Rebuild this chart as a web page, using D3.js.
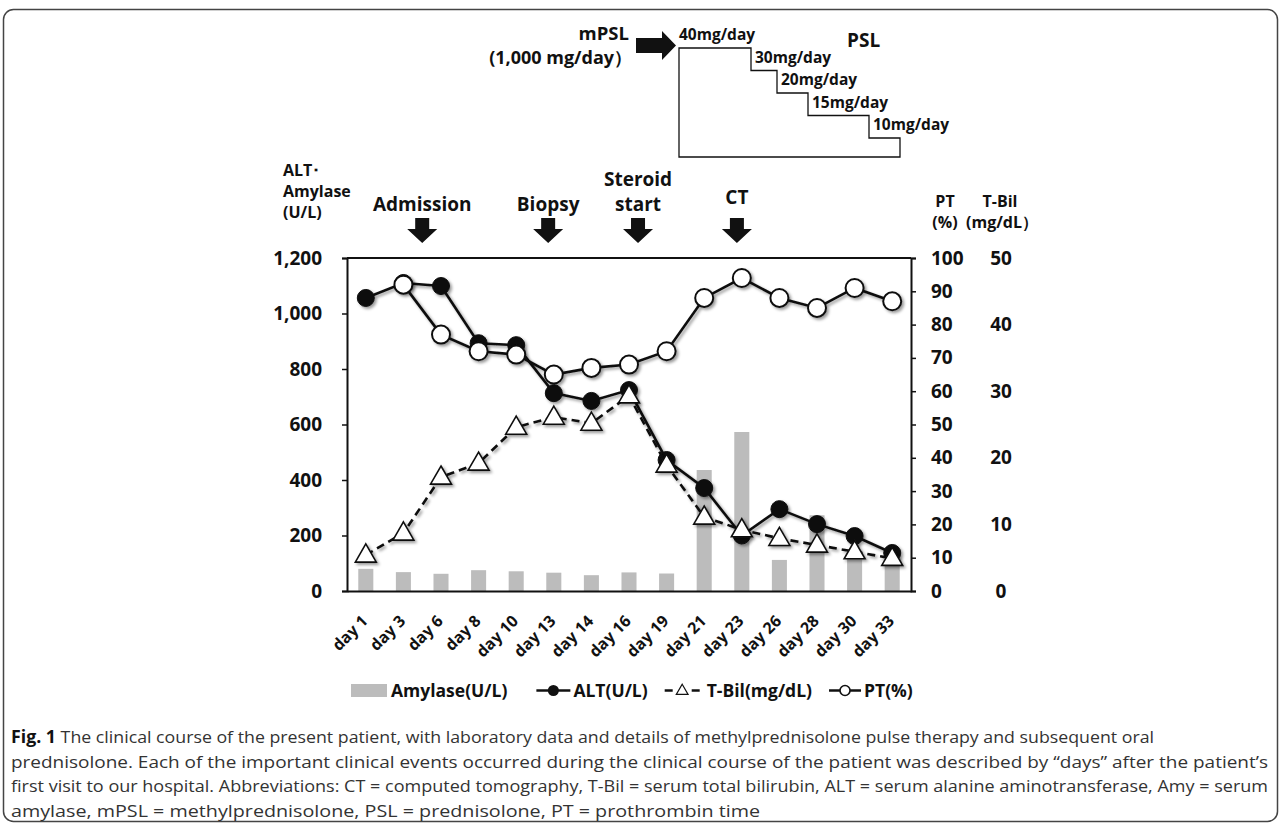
<!DOCTYPE html>
<html>
<head>
<meta charset="utf-8">
<script src="https://cdn.jsdelivr.net/npm/d3@7"></script>
<style>
  body { margin: 0; background: #fff; }
  svg text { font-family: "Open Sans", "Noto Sans", sans-serif; }
  .bold { font-weight: 700; fill: #111; }
</style>
</head>
<body>
<svg id="fig" width="1281" height="824"></svg>
<script>
// ---- data ----
var days = ["day 1", "day 3", "day 6", "day 8", "day 10", "day 13", "day 14", "day 16",
            "day 19", "day 21", "day 23", "day 26", "day 28", "day 30", "day 33"];
var amylase = [80, 68, 62, 75, 71, 66, 57, 67, 63, 436, 573, 112, 273, 140, 110];
var alt = [1056, 1110, 1099, 893, 886, 713, 685, 724, 472, 371, 200, 295, 241, 198, 137];
var tbil = [5.4, 8.7, 17.1, 19.2, 24.6, 26.1, 25.2, 29.3, 18.9, 11.1, 9.2, 7.9, 6.9, 5.9, 4.9];
var pt = [null, 92, 77, 72, 71, 65, 67, 68, 72, 88, 94, 88, 85, 91, 87];

var leftTicks = [0, 200, 400, 600, 800, 1000, 1200];
var ptTicks = [0, 10, 20, 30, 40, 50, 60, 70, 80, 90, 100];
var tbilTicks = [0, 10, 20, 30, 40, 50];

// clinical events (arrow sits between/near these days)
var events = [
  {label: ["Admission"], day: "day 3"},
  {label: ["Biopsy"], day: "day 13"},
  {label: ["Steroid", "start"], day: "day 16"},
  {label: ["CT"], day: "day 23"}
];
var eventShift = [0.5, -0.15, 0.24, -0.13];   // fraction of a day step
var eventLift = [0, 0, 0, 7];

// PSL taper
var pslDoses = ["40mg/day", "30mg/day", "20mg/day", "15mg/day", "10mg/day"];
var pslSpan = [72, 26, 31, 61, 31];

var caption = [
  "The clinical course of the present patient, with laboratory data and details of methylprednisolone pulse therapy and subsequent oral",
  "prednisolone. Each of the important clinical events occurred during the clinical course of the patient was described by \u201cdays\u201d after the patient\u2019s",
  "first visit to our hospital. Abbreviations: CT = computed tomography, T-Bil = serum total bilirubin, ALT = serum alanine aminotransferase, Amy = serum",
  "amylase, mPSL = methylprednisolone, PSL = prednisolone, PT = prothrombin time"
];

// ---- layout ----
var svg = d3.select("#fig");
var plot = {left: 347, right: 911, top: 258, bottom: 591};

svg.append("rect").attr("width", 1281).attr("height", 824).attr("fill", "#fff");
svg.append("rect")
  .attr("x", 3.5).attr("y", 9.5).attr("width", 1274).attr("height", 812).attr("rx", 10)
  .attr("fill", "none").attr("stroke", "#444").attr("stroke-width", 1.5);

var defs = svg.append("defs");
defs.append("filter").attr("id", "shadow")
  .attr("x", "-20%").attr("y", "-20%").attr("width", "140%").attr("height", "140%")
  .append("feDropShadow")
  .attr("dx", 2).attr("dy", 2).attr("stdDeviation", 1.6)
  .attr("flood-color", "#000").attr("flood-opacity", 0.4);

var x = d3.scaleBand().domain(days).range([plot.left, plot.right])
  .paddingInner(0.6).paddingOuter(0.3);
var yL = d3.scaleLinear().domain([0, 1200]).range([plot.bottom, plot.top]);
var yPT = d3.scaleLinear().domain([0, 100]).range([plot.bottom, plot.top]);
var yTB = d3.scaleLinear().domain([0, 50]).range([plot.bottom, plot.top]);
var cx = function(d) { return x(d) + x.bandwidth() / 2; };

// bars
svg.append("g").selectAll("rect")
  .data(amylase).enter().append("rect")
  .attr("x", function(d, i) { return x(days[i]); })
  .attr("width", x.bandwidth())
  .attr("y", function(d) { return yL(d); })
  .attr("height", function(d) { return yL(0) - yL(d); })
  .attr("fill", "#bcbcbc");

// top frame line
svg.append("line")
  .attr("x1", plot.left).attr("x2", plot.right).attr("y1", plot.top).attr("y2", plot.top)
  .attr("stroke", "#111").attr("stroke-width", 2);

// axes
var gl = svg.append("g").attr("transform", "translate(" + plot.left + ",0)")
  .call(d3.axisLeft(yL).tickValues(leftTicks).tickSize(5).tickPadding(20).tickFormat(d3.format(",")));
var gr = svg.append("g").attr("transform", "translate(" + plot.right + ",0)")
  .call(d3.axisRight(yPT).tickValues(ptTicks).tickSize(5).tickPadding(15));
var gt = svg.append("g").attr("transform", "translate(1001,0)")
  .call(d3.axisRight(yTB).tickValues(tbilTicks).tickSize(0).tickPadding(0));
gt.select(".domain").remove();
gt.selectAll("text").attr("text-anchor", "middle");
var gb = svg.append("g").attr("transform", "translate(0," + plot.bottom + ")")
  .call(d3.axisBottom(x).tickSize(0).tickSizeOuter(0).tickPadding(0));

[gl, gr, gt, gb].forEach(function(g) {
  g.selectAll(".domain").attr("stroke", "#111").attr("stroke-width", 2);
  g.selectAll(".tick line").attr("stroke", "#111").attr("stroke-width", 1.5);
  g.selectAll("text").attr("class", "bold").style("font-size", "19px")
    .attr("font-family", null);
});
gb.selectAll(".tick text")
  .style("font-size", "16px")
  .attr("text-anchor", "end")
  .attr("dy", 0).attr("y", 0)
  .attr("transform", "translate(3,31) rotate(-45)");

// ALT line
var lineGen = function(sc, arr) {
  return d3.line().defined(function(d) { return d != null; })
    .x(function(d, i) { return cx(days[i]); })
    .y(function(d) { return sc(d); })(arr);
};

var gAlt = svg.append("g").attr("filter", "url(#shadow)");
gAlt.append("path").attr("d", lineGen(yL, alt))
  .attr("fill", "none").attr("stroke", "#111").attr("stroke-width", 2.6);
gAlt.selectAll("circle").data(alt).enter().append("circle")
  .attr("cx", function(d, i) { return cx(days[i]); })
  .attr("cy", function(d) { return yL(d); })
  .attr("r", 8.5).attr("fill", "#111").attr("stroke", "#111").attr("stroke-width", 1);

// T-Bil dashed with triangles
var tri = d3.symbol().type(d3.symbolTriangle).size(190);
var gTb = svg.append("g").attr("filter", "url(#shadow)");
gTb.append("path").attr("d", lineGen(yTB, tbil))
  .attr("fill", "none").attr("stroke", "#111").attr("stroke-width", 2.6)
  .attr("stroke-dasharray", "8,5");
gTb.selectAll("path.tri").data(tbil).enter().append("path").attr("class", "tri")
  .attr("d", tri)
  .attr("transform", function(d, i) { return "translate(" + cx(days[i]) + "," + (yTB(d) + 1) + ")"; })
  .attr("fill", "#fff").attr("stroke", "#111").attr("stroke-width", 1.6);

// PT open circles
var gPt = svg.append("g").attr("filter", "url(#shadow)");
gPt.append("path").attr("d", lineGen(yPT, pt))
  .attr("fill", "none").attr("stroke", "#111").attr("stroke-width", 2.6);
gPt.selectAll("circle").data(pt.map(function(v, i) { return {v: v, d: days[i]}; })
    .filter(function(o) { return o.v != null; }))
  .enter().append("circle")
  .attr("cx", function(o) { return cx(o.d); })
  .attr("cy", function(o) { return yPT(o.v); })
  .attr("r", 9).attr("fill", "#fff").attr("stroke", "#111").attr("stroke-width", 2);

// axis titles
var t = svg.append("text").attr("class", "bold").style("font-size", "16px");
t.append("tspan").attr("x", 283).attr("y", 176).text("ALT\uff65");
t.append("tspan").attr("x", 283).attr("y", 197).text("Amylase");
t.append("tspan").attr("x", 283).attr("y", 218).text("(U/L)");
svg.append("text").attr("class", "bold").style("font-size", "16px").attr("text-anchor", "middle")
  .attr("x", 945).attr("y", 207).text("PT");
svg.append("text").attr("class", "bold").style("font-size", "16px").attr("text-anchor", "middle")
  .attr("x", 945).attr("y", 228).text("(%)");
svg.append("text").attr("class", "bold").style("font-size", "16px").attr("text-anchor", "middle")
  .attr("x", 1000).attr("y", 207).text("T-Bil");
svg.append("text").attr("class", "bold").style("font-size", "16px").attr("text-anchor", "middle")
  .attr("x", 1002).attr("y", 228).text("(mg/dL\uff09");

// event arrows
function downArrow(cxp, top, tip) {
  var sw = 7, hw = 15, hy = top + 11;
  return "M" + (cxp - sw) + "," + top + "H" + (cxp + sw) + "V" + hy + "H" + (cxp + hw) +
    "L" + cxp + "," + tip + "L" + (cxp - hw) + "," + hy + "H" + (cxp - sw) + "Z";
}
events.forEach(function(e, i) {
  var ex = cx(e.day) + eventShift[i] * x.step();
  svg.append("path").attr("d", downArrow(ex, 218, 243)).attr("fill", "#111");
  var n = e.label.length;
  e.label.forEach(function(s, j) {
    svg.append("text").attr("class", "bold").style("font-size", "19px")
      .attr("text-anchor", "middle").attr("x", ex)
      .attr("y", 211 - eventLift[i] - (n - 1 - j) * 25).text(s);
  });
});

// steroid taper diagram
svg.append("text").attr("class", "bold").style("font-size", "18.5px").attr("text-anchor", "end")
  .attr("x", 629).attr("y", 40).text("mPSL");
svg.append("text").attr("class", "bold").style("font-size", "18px").attr("text-anchor", "end")
  .attr("x", 632).attr("y", 64).text("(1,000 mg/day\uff09");
svg.append("path")
  .attr("d", "M636,38H662V31L676,45.5L662,60V53H636Z").attr("fill", "#111");

var cum = [0];
pslSpan.forEach(function(w) { cum.push(cum[cum.length - 1] + w); });
var xs = d3.scaleLinear().domain([0, cum[cum.length - 1]]).range([679, 900]);
var ys = d3.scaleLinear().domain([0, pslDoses.length - 1]).range([48, 138]);
var stair = "M" + xs(0) + ",157V" + ys(0);
pslDoses.forEach(function(d, i) {
  stair += "H" + xs(cum[i + 1]);
  stair += "V" + (i + 1 < pslDoses.length ? ys(i + 1) : 157);
});
stair += "Z";
svg.append("path").attr("d", stair).attr("fill", "none").attr("stroke", "#111").attr("stroke-width", 1.3);
pslDoses.forEach(function(d, i) {
  svg.append("text").attr("class", "bold").style("font-size", "15.5px")
    .attr("x", (i === 0 ? xs(0) : xs(cum[i]) + 4))
    .attr("y", ys(i) - 8).text(d);
});
svg.append("text").attr("class", "bold").style("font-size", "19px")
  .attr("x", 847).attr("y", 47).text("PSL");

// legend (laid out left to right from measured text widths)
var lg = svg.append("g").attr("class", "legend");
var ly = 690.5, lx = 351;
function legText(s) {
  var el = lg.append("text").attr("class", "bold").style("font-size", "17.5px")
    .attr("x", lx).attr("y", ly + 6.5).text(s);
  lx += el.node().getComputedTextLength();
}
lg.append("rect").attr("x", lx).attr("y", ly - 6.5).attr("width", 36).attr("height", 13).attr("fill", "#bcbcbc");
lx += 40;
legText("Amylase(U/L)");
lx += 29;
lg.append("line").attr("x1", lx).attr("x2", lx + 34).attr("y1", ly).attr("y2", ly)
  .attr("stroke", "#111").attr("stroke-width", 2.5);
lg.append("circle").attr("cx", lx + 17).attr("cy", ly).attr("r", 5.5).attr("fill", "#111");
lx += 37;
legText("ALT(U/L)");
lx += 17;
lg.append("line").attr("x1", lx).attr("x2", lx + 8).attr("y1", ly).attr("y2", ly)
  .attr("stroke", "#111").attr("stroke-width", 2.5);
lg.append("line").attr("x1", lx + 27).attr("x2", lx + 35).attr("y1", ly).attr("y2", ly)
  .attr("stroke", "#111").attr("stroke-width", 2.5);
lg.append("path").attr("d", d3.symbol().type(d3.symbolTriangle).size(60))
  .attr("transform", "translate(" + (lx + 17.5) + "," + (ly + 0.5) + ")")
  .attr("fill", "#fff").attr("stroke", "#111").attr("stroke-width", 1.2);
lx += 42;
legText("T-Bil(mg/dL)");
lx += 17;
lg.append("line").attr("x1", lx).attr("x2", lx + 32).attr("y1", ly).attr("y2", ly)
  .attr("stroke", "#111").attr("stroke-width", 2.5);
lg.append("circle").attr("cx", lx + 16).attr("cy", ly).attr("r", 5).attr("fill", "#fff")
  .attr("stroke", "#111").attr("stroke-width", 1.6);
lx += 35;
legText("PT(%)");

// caption
var capEnds = [1154, 1268, 1268, 760];
caption.forEach(function(line, i) {
  var tx = svg.append("text").attr("x", 11).attr("y", 743 + i * 24.7)
    .style("font-size", "17px").attr("fill", "#333")
    .attr("textLength", capEnds[i] - 11).attr("lengthAdjust", "spacingAndGlyphs");
  if (i === 0) {
    tx.append("tspan").attr("font-weight", 700).attr("fill", "#111").text("Fig. 1 ");
  }
  tx.append("tspan").text(line);
});
</script>
</body>
</html>
